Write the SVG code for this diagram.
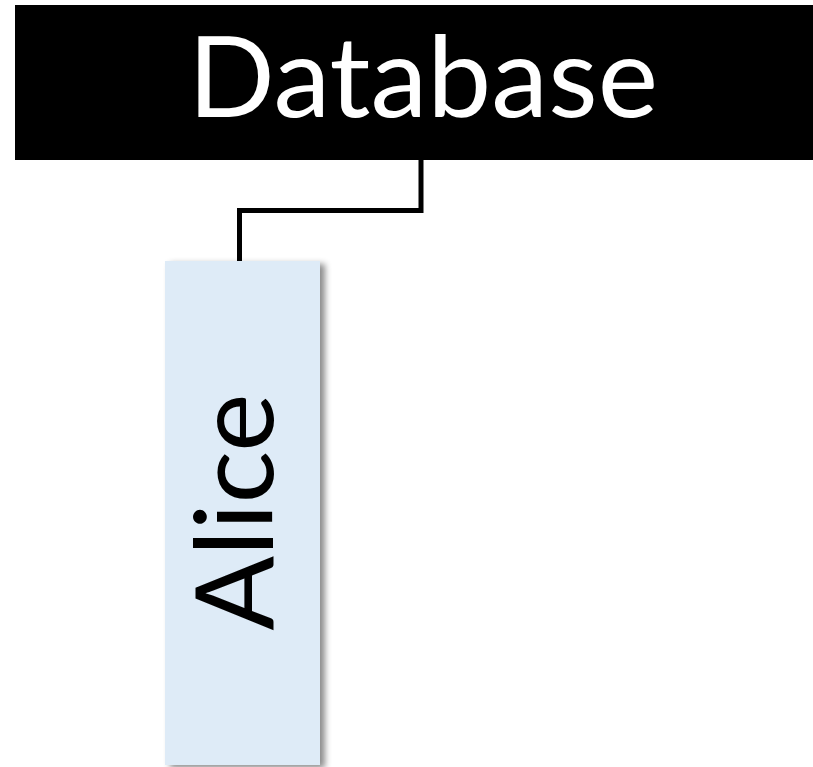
<svg xmlns="http://www.w3.org/2000/svg" width="813" height="767" viewBox="0 0 813 767">
<style>
.lbl{font-family:Lato,"Open Sans","Liberation Sans",sans-serif;}
.conn{fill:none;stroke:#000;stroke-width:5;}
</style>
<defs>
<filter id="sh" x="-20%" y="-10%" width="140%" height="120%">
<feDropShadow dx="5" dy="3" stdDeviation="3" flood-color="#000" flood-opacity="0.45"/>
</filter>
</defs>
<rect width="813" height="767" fill="#fff"/>
<g id="connectors">
<path class="conn" d="M421 158 V210.5 H239.5 V262"/>
</g>
<g id="database">
<rect x="15" y="5" width="798" height="155" fill="#000"/>
<text class="lbl" x="423" y="117" font-size="112" fill="#fff" text-anchor="middle" textLength="470" lengthAdjust="spacingAndGlyphs">Database</text>
</g>
<g id="alice">
<rect x="165" y="261" width="155" height="504" fill="#DEEBF7" filter="url(#sh)"/>
<text class="lbl" transform="translate(273 512) rotate(-90)" x="0" y="0" font-size="108" fill="#000" text-anchor="middle" textLength="237" lengthAdjust="spacingAndGlyphs">Alice</text>
</g>
</svg>
